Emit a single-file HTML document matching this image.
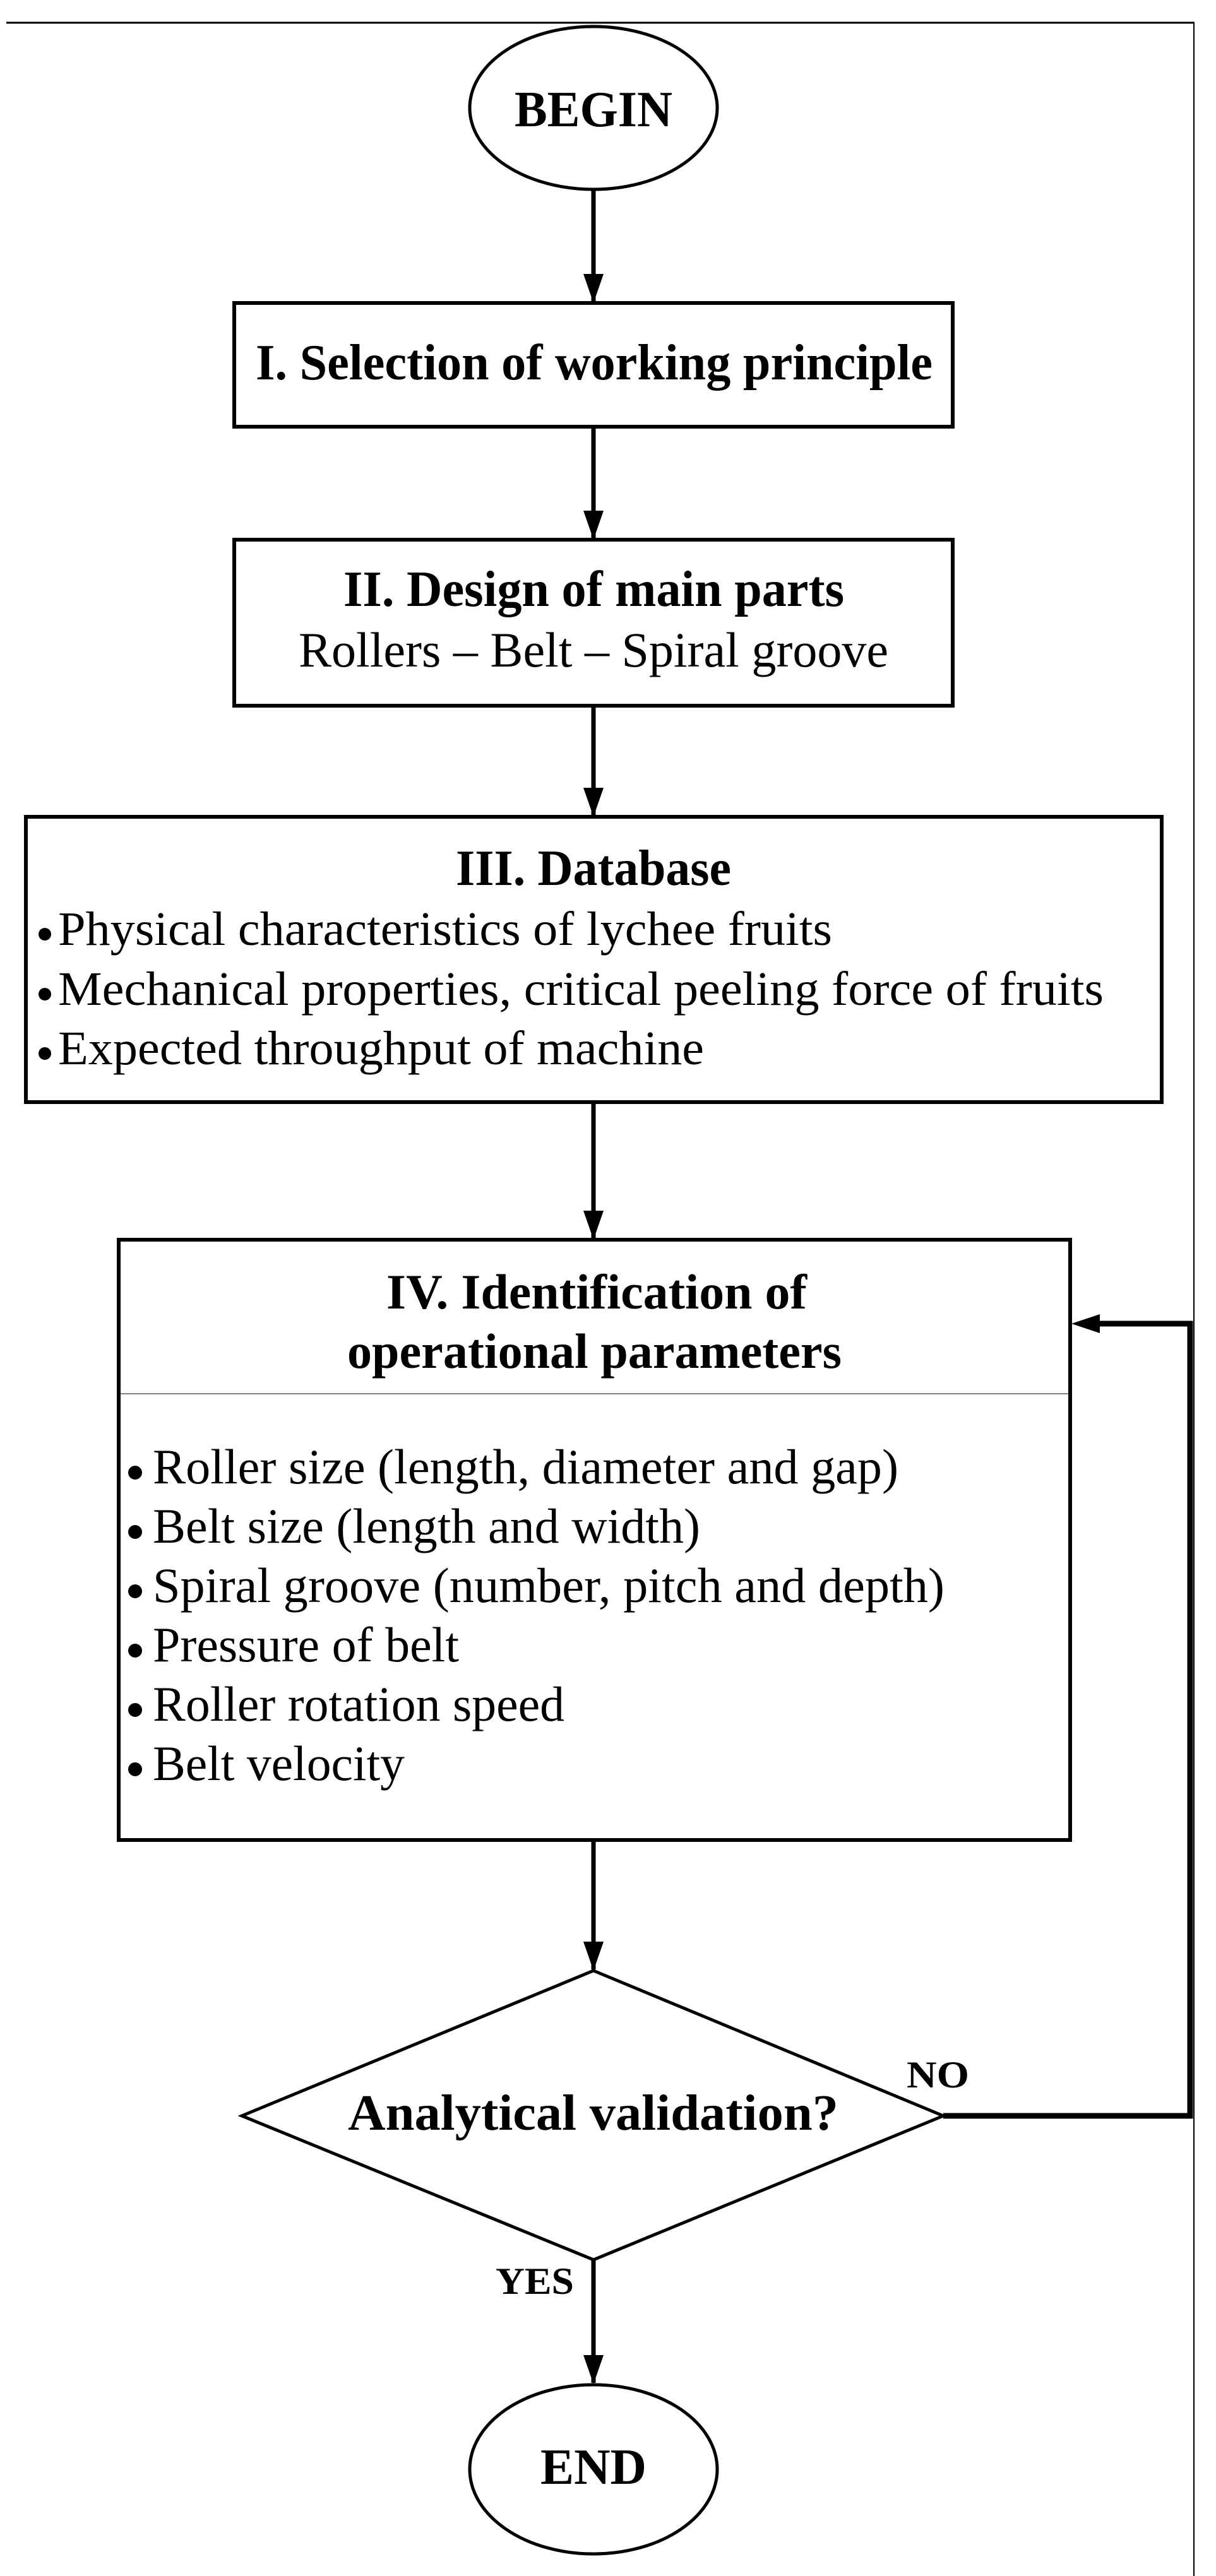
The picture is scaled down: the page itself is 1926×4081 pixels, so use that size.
<!DOCTYPE html>
<html><head><meta charset="utf-8"><style>
html,body{margin:0;padding:0;background:#fff;}
svg{display:block;}
text{font-family:"Liberation Serif",serif;fill:#000;}
.b{font-weight:bold;}
</style></head><body>
<svg width="1926" height="4081" viewBox="0 0 1926 4081" xmlns="http://www.w3.org/2000/svg">
<defs>
<marker id="ah" markerWidth="46" markerHeight="32" refX="44" refY="16" orient="auto" markerUnits="userSpaceOnUse">
<path d="M0,0 L46,16 L0,32 Z" fill="#000"/>
</marker>
</defs>
<!-- page frame -->
<line x1="10" y1="36" x2="1892" y2="36" stroke="#000" stroke-width="3"/>
<line x1="1891" y1="36" x2="1891" y2="4081" stroke="#000" stroke-width="2"/>

<!-- BEGIN -->
<ellipse cx="940" cy="171" rx="196" ry="129" fill="none" stroke="#000" stroke-width="5"/>
<text class="b" x="940" y="200" font-size="80" text-anchor="middle" textLength="250" lengthAdjust="spacingAndGlyphs">BEGIN</text>

<line x1="940" y1="300" x2="940" y2="478" stroke="#000" stroke-width="7" marker-end="url(#ah)"/>

<!-- Box I -->
<rect x="371" y="480" width="1138" height="196" fill="none" stroke="#000" stroke-width="6"/>
<text class="b" x="405" y="601" font-size="80" textLength="1072" lengthAdjust="spacingAndGlyphs">I. Selection of working principle</text>

<line x1="940" y1="676" x2="940" y2="853" stroke="#000" stroke-width="7" marker-end="url(#ah)"/>

<!-- Box II -->
<rect x="371" y="855" width="1138" height="263" fill="none" stroke="#000" stroke-width="6"/>
<text class="b" x="544" y="960" font-size="80" textLength="793" lengthAdjust="spacingAndGlyphs">II. Design of main parts</text>
<text x="473" y="1056" font-size="78" textLength="934" lengthAdjust="spacingAndGlyphs">Rollers – Belt – Spiral groove</text>

<line x1="940" y1="1118" x2="940" y2="1292" stroke="#000" stroke-width="7" marker-end="url(#ah)"/>

<!-- Box III -->
<rect x="41" y="1294" width="1799" height="452" fill="none" stroke="#000" stroke-width="6"/>
<text class="b" x="722" y="1402" font-size="80" textLength="436" lengthAdjust="spacingAndGlyphs">III. Database</text>
<circle cx="71" cy="1480" r="10"/>
<text x="92" y="1497" font-size="76" textLength="1226" lengthAdjust="spacingAndGlyphs">Physical characteristics of lychee fruits</text>
<circle cx="71" cy="1575" r="10"/>
<text x="92" y="1592" font-size="76" textLength="1656" lengthAdjust="spacingAndGlyphs">Mechanical properties, critical peeling force of fruits</text>
<circle cx="71" cy="1669" r="10"/>
<text x="92" y="1686" font-size="76" textLength="1023" lengthAdjust="spacingAndGlyphs">Expected throughput of machine</text>

<line x1="940" y1="1746" x2="940" y2="1962" stroke="#000" stroke-width="7" marker-end="url(#ah)"/>

<!-- Box IV -->
<rect x="188" y="1964" width="1507" height="951" fill="none" stroke="#000" stroke-width="6"/>
<line x1="191" y1="2208" x2="1692" y2="2208" stroke="#808080" stroke-width="2"/>
<text class="b" x="612" y="2073" font-size="78" textLength="666" lengthAdjust="spacingAndGlyphs">IV. Identification of</text>
<text class="b" x="550" y="2167" font-size="78" textLength="783" lengthAdjust="spacingAndGlyphs">operational parameters</text>
<circle cx="214" cy="2333" r="11"/>
<text x="242" y="2350" font-size="78" textLength="1181" lengthAdjust="spacingAndGlyphs">Roller size (length, diameter and gap)</text>
<circle cx="214" cy="2427" r="11"/>
<text x="242" y="2444" font-size="78" textLength="867" lengthAdjust="spacingAndGlyphs">Belt size (length and width)</text>
<circle cx="214" cy="2521" r="11"/>
<text x="242" y="2538" font-size="78" textLength="1254" lengthAdjust="spacingAndGlyphs">Spiral groove (number, pitch and depth)</text>
<circle cx="214" cy="2615" r="11"/>
<text x="242" y="2632" font-size="78" textLength="485" lengthAdjust="spacingAndGlyphs">Pressure of belt</text>
<circle cx="214" cy="2709" r="11"/>
<text x="242" y="2726" font-size="78" textLength="652" lengthAdjust="spacingAndGlyphs">Roller rotation speed</text>
<circle cx="214" cy="2803" r="11"/>
<text x="242" y="2820" font-size="78" textLength="399" lengthAdjust="spacingAndGlyphs">Belt velocity</text>

<line x1="940" y1="2915" x2="940" y2="3120" stroke="#000" stroke-width="7" marker-end="url(#ah)"/>

<!-- Diamond -->
<polygon points="940,3122 1494,3352 940,3580 383,3352" fill="none" stroke="#000" stroke-width="5"/>
<text class="b" x="551" y="3374" font-size="80" textLength="777" lengthAdjust="spacingAndGlyphs">Analytical validation?</text>
<text class="b" x="1436" y="3307" font-size="60" textLength="99" lengthAdjust="spacingAndGlyphs">NO</text>
<text class="b" x="785" y="3634" font-size="60" textLength="124" lengthAdjust="spacingAndGlyphs">YES</text>

<!-- Loop back -->
<polyline points="1494,3352 1885,3352 1885,2097 1740,2097" fill="none" stroke="#000" stroke-width="9"/>
<path d="M1697,2097 L1742,2082 L1742,2112 Z" fill="#000"/>

<line x1="940" y1="3580" x2="940" y2="3775" stroke="#000" stroke-width="7" marker-end="url(#ah)"/>

<!-- END -->
<ellipse cx="940" cy="3912" rx="196" ry="134" fill="none" stroke="#000" stroke-width="5"/>
<text class="b" x="940" y="3935" font-size="80" text-anchor="middle" textLength="168" lengthAdjust="spacingAndGlyphs">END</text>
</svg>
</body></html>
